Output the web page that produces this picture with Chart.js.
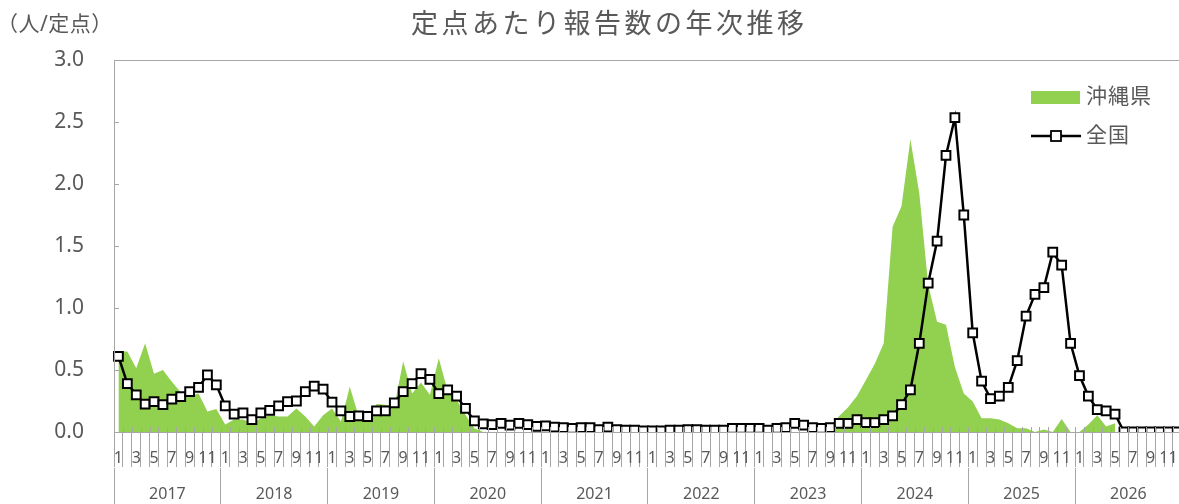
<!DOCTYPE html>
<html lang="ja">
<head>
<meta charset="utf-8">
<title>定点あたり報告数の年次推移</title>
<script src="https://cdn.jsdelivr.net/npm/chart.js@4.4.1/dist/chart.umd.min.js"></script>
<style>
  html, body { margin: 0; padding: 0; background: #fff; overflow: hidden; }
  #wrap { position: relative; width: 1190px; height: 504px; }
</style>
</head>
<body>
<div id="wrap"><canvas id="chart" width="1190" height="504"></canvas></div>
<script>
// --- data ---
const years = ['2017', '2018', '2019', '2020', '2021', '2022', '2023', '2024', '2025', '2026'];
const monthNums = [1, 2, 3, 4, 5, 6, 7, 8, 9, 10, 11, 12];
const yTicks = [0, 0.5, 1.0, 1.5, 2.0, 2.5, 3.0];

// 沖縄県 (monthly, 2017/1 - 2026/5)
const okinawa = [
  0.65, 0.65, 0.515, 0.715, 0.47, 0.50, 0.405, 0.32, 0.29, 0.31, 0.165, 0.185,
  0.06, 0.10, 0.10, 0.07, 0.11, 0.135, 0.125, 0.125, 0.19, 0.125, 0.045, 0.135,
  0.19, 0.085, 0.365, 0.125, 0.10, 0.225, 0.22, 0.205, 0.57, 0.31, 0.40, 0.30,
  0.595, 0.33, 0.26, 0.14, 0.03, 0, 0, 0, 0, 0, 0, 0,
  0, 0, 0, 0, 0, 0, 0, 0, 0, 0, 0, 0,
  0, 0, 0, 0, 0, 0, 0, 0, 0, 0, 0, 0,
  0, 0, 0, 0, 0, 0, 0, 0, 0.04, 0.13, 0.20, 0.29,
  0.42, 0.55, 0.715, 1.655, 1.82, 2.36, 1.925, 1.185, 0.89, 0.865, 0.525, 0.31,
  0.245, 0.11, 0.11, 0.10, 0.07, 0.03, 0.03, 0, 0.02, 0, 0.105, 0,
  0, 0.06, 0.135, 0.045, 0.07, null, null, null, null, null, null, null
];

// 全国 (monthly, 2017/1 - 2026/12)
const national = [
  0.61, 0.39, 0.30, 0.225, 0.245, 0.22, 0.265, 0.285, 0.325, 0.36, 0.46, 0.38,
  0.21, 0.145, 0.155, 0.10, 0.155, 0.175, 0.21, 0.245, 0.25, 0.325, 0.37, 0.345,
  0.24, 0.17, 0.125, 0.13, 0.125, 0.17, 0.17, 0.235, 0.325, 0.39, 0.47, 0.425,
  0.31, 0.34, 0.29, 0.19, 0.09, 0.065, 0.06, 0.07, 0.055, 0.07, 0.06, 0.045,
  0.05, 0.04, 0.035, 0.03, 0.035, 0.035, 0.02, 0.04, 0.02, 0.015, 0.015, 0.01,
  0.01, 0.01, 0.015, 0.015, 0.02, 0.02, 0.015, 0.015, 0.015, 0.03, 0.03, 0.03,
  0.03, 0.015, 0.03, 0.035, 0.07, 0.055, 0.035, 0.03, 0.035, 0.07, 0.07, 0.10,
  0.075, 0.075, 0.10, 0.13, 0.22, 0.34, 0.715, 1.20, 1.54, 2.23, 2.535, 1.75,
  0.80, 0.41, 0.27, 0.29, 0.36, 0.575, 0.935, 1.11, 1.165, 1.45, 1.345, 0.715,
  0.455, 0.29, 0.18, 0.17, 0.145, 0, 0, 0, 0, 0, 0, 0
];

const labels = years.flatMap(y => monthNums.map(m => y + '/' + m));

// --- styles ---
const FONT = "'Noto Sans', 'Noto Sans CJK JP', sans-serif";
const textColor = '#595959';
const axisColor = '#a6a6a6';
const green = '#92D050';

// 枠線・内側の目盛り・タイトル・凡例
const decorPlugin = {
  id: 'decor',
  afterDatasetsDraw(chart) {
    const { ctx, chartArea: a, scales: { x, y } } = chart;
    ctx.save();
    ctx.strokeStyle = axisColor;
    ctx.lineWidth = 1;
    ctx.strokeRect(Math.round(a.left) + 0.5, Math.round(a.top) + 0.5,
      Math.round(a.right - a.left), Math.round(a.bottom - a.top));
    // short inner ticks on the month boundaries
    const step = x.getPixelForValue(1) - x.getPixelForValue(0);
    ctx.beginPath();
    for (let i = 0; i <= labels.length; i++) {
      const px = Math.round(x.getPixelForValue(i) - step / 2) + 0.5;
      ctx.moveTo(px, a.bottom);
      ctx.lineTo(px, a.bottom - 5);
    }
    yTicks.forEach(v => {
      const py = Math.round(y.getPixelForValue(v)) + 0.5;
      ctx.moveTo(a.left, py);
      ctx.lineTo(a.left + 5, py);
    });
    ctx.stroke();
    ctx.restore();
  },
  afterDraw(chart) {
    const { ctx } = chart;
    ctx.save();
    ctx.fillStyle = textColor;
    ctx.textBaseline = 'middle';

    // タイトル
    ctx.font = `27px ${FONT}`;
    ctx.textAlign = 'left';
    ctx.letterSpacing = '3.5px';
    ctx.fillText('定点あたり報告数の年次推移', 411, 25);

    // 単位
    ctx.font = `21px ${FONT}`;
    ctx.letterSpacing = '0.5px';
    ctx.fillText('（人/定点）', -3, 25);

    // 凡例
    const ds = chart.data.datasets;
    ctx.fillStyle = ds[1].backgroundColor;
    ctx.fillRect(1031, 91, 49, 13);

    ctx.strokeStyle = ds[0].borderColor;
    ctx.lineWidth = 2.5;
    ctx.beginPath();
    ctx.moveTo(1031, 136);
    ctx.lineTo(1081, 136);
    ctx.stroke();
    ctx.fillStyle = '#fff';
    ctx.lineWidth = 1.8;
    ctx.fillRect(1051, 131, 10, 10);
    ctx.strokeRect(1051, 131, 10, 10);

    ctx.fillStyle = textColor;
    ctx.font = `21px ${FONT}`;
    ctx.letterSpacing = '1px';
    ctx.fillText('沖縄県', 1086, 97);
    ctx.fillText('全国', 1086, 136);
    ctx.restore();
  }
};

new Chart(document.getElementById('chart'), {
  type: 'line',
  data: {
    labels: labels,
    datasets: [
      {
        label: '全国',
        data: national,
        order: 0,
        borderColor: '#000',
        borderWidth: 2.5,
        pointStyle: 'rect',
        pointRadius: 6.2,
        pointBorderWidth: 2,
        pointBackgroundColor: '#fff',
        pointBorderColor: '#000',
        tension: 0,
        fill: false
      },
      {
        label: '沖縄県',
        data: okinawa,
        order: 1,
        borderColor: green,
        backgroundColor: green,
        borderWidth: 0,
        pointRadius: 0,
        tension: 0,
        fill: 'origin'
      }
    ]
  },
  options: {
    responsive: false,
    animation: false,
    layout: { padding: { top: 60, right: 3.5, bottom: 0, left: 0 } },
    plugins: {
      legend: { display: false },
      title: { display: false },
      tooltip: { enabled: false }
    },
    scales: {
      x: {
        type: 'category',
        offset: true,
        afterFit: s => { s.height = 36; },
        grid: { offset: true, drawOnChartArea: false, tickLength: 35, color: axisColor },
        border: { display: true, color: axisColor },
        ticks: {
          autoSkip: false, maxRotation: 0, minRotation: 0, padding: -18,
          color: textColor, font: { size: 16, family: FONT },
          callback: (v, i) => (i % 2 === 0 ? String(monthNums[i % 12]) : '')
        }
      },
      x2: {
        type: 'category',
        position: 'bottom',
        labels: years,
        offset: true,
        afterFit: s => { s.height = 36; },
        grid: { offset: true, drawOnChartArea: false, tickLength: 36, color: axisColor },
        border: { display: false },
        ticks: {
          autoSkip: false, maxRotation: 0, padding: -19,
          color: textColor, font: { size: 16, family: FONT }
        }
      },
      y: {
        min: 0,
        max: 3,
        afterBuildTicks: s => { s.ticks = yTicks.map(v => ({ value: v })); },
        afterFit: s => { s.width = 114; },
        grid: { display: false, drawTicks: false },
        border: { display: true, color: axisColor },
        ticks: {
          padding: 30, color: textColor, font: { size: 21, family: FONT },
          callback: v => Number(v).toFixed(1)
        }
      }
    }
  },
  plugins: [decorPlugin]
});
</script>
</body>
</html>
